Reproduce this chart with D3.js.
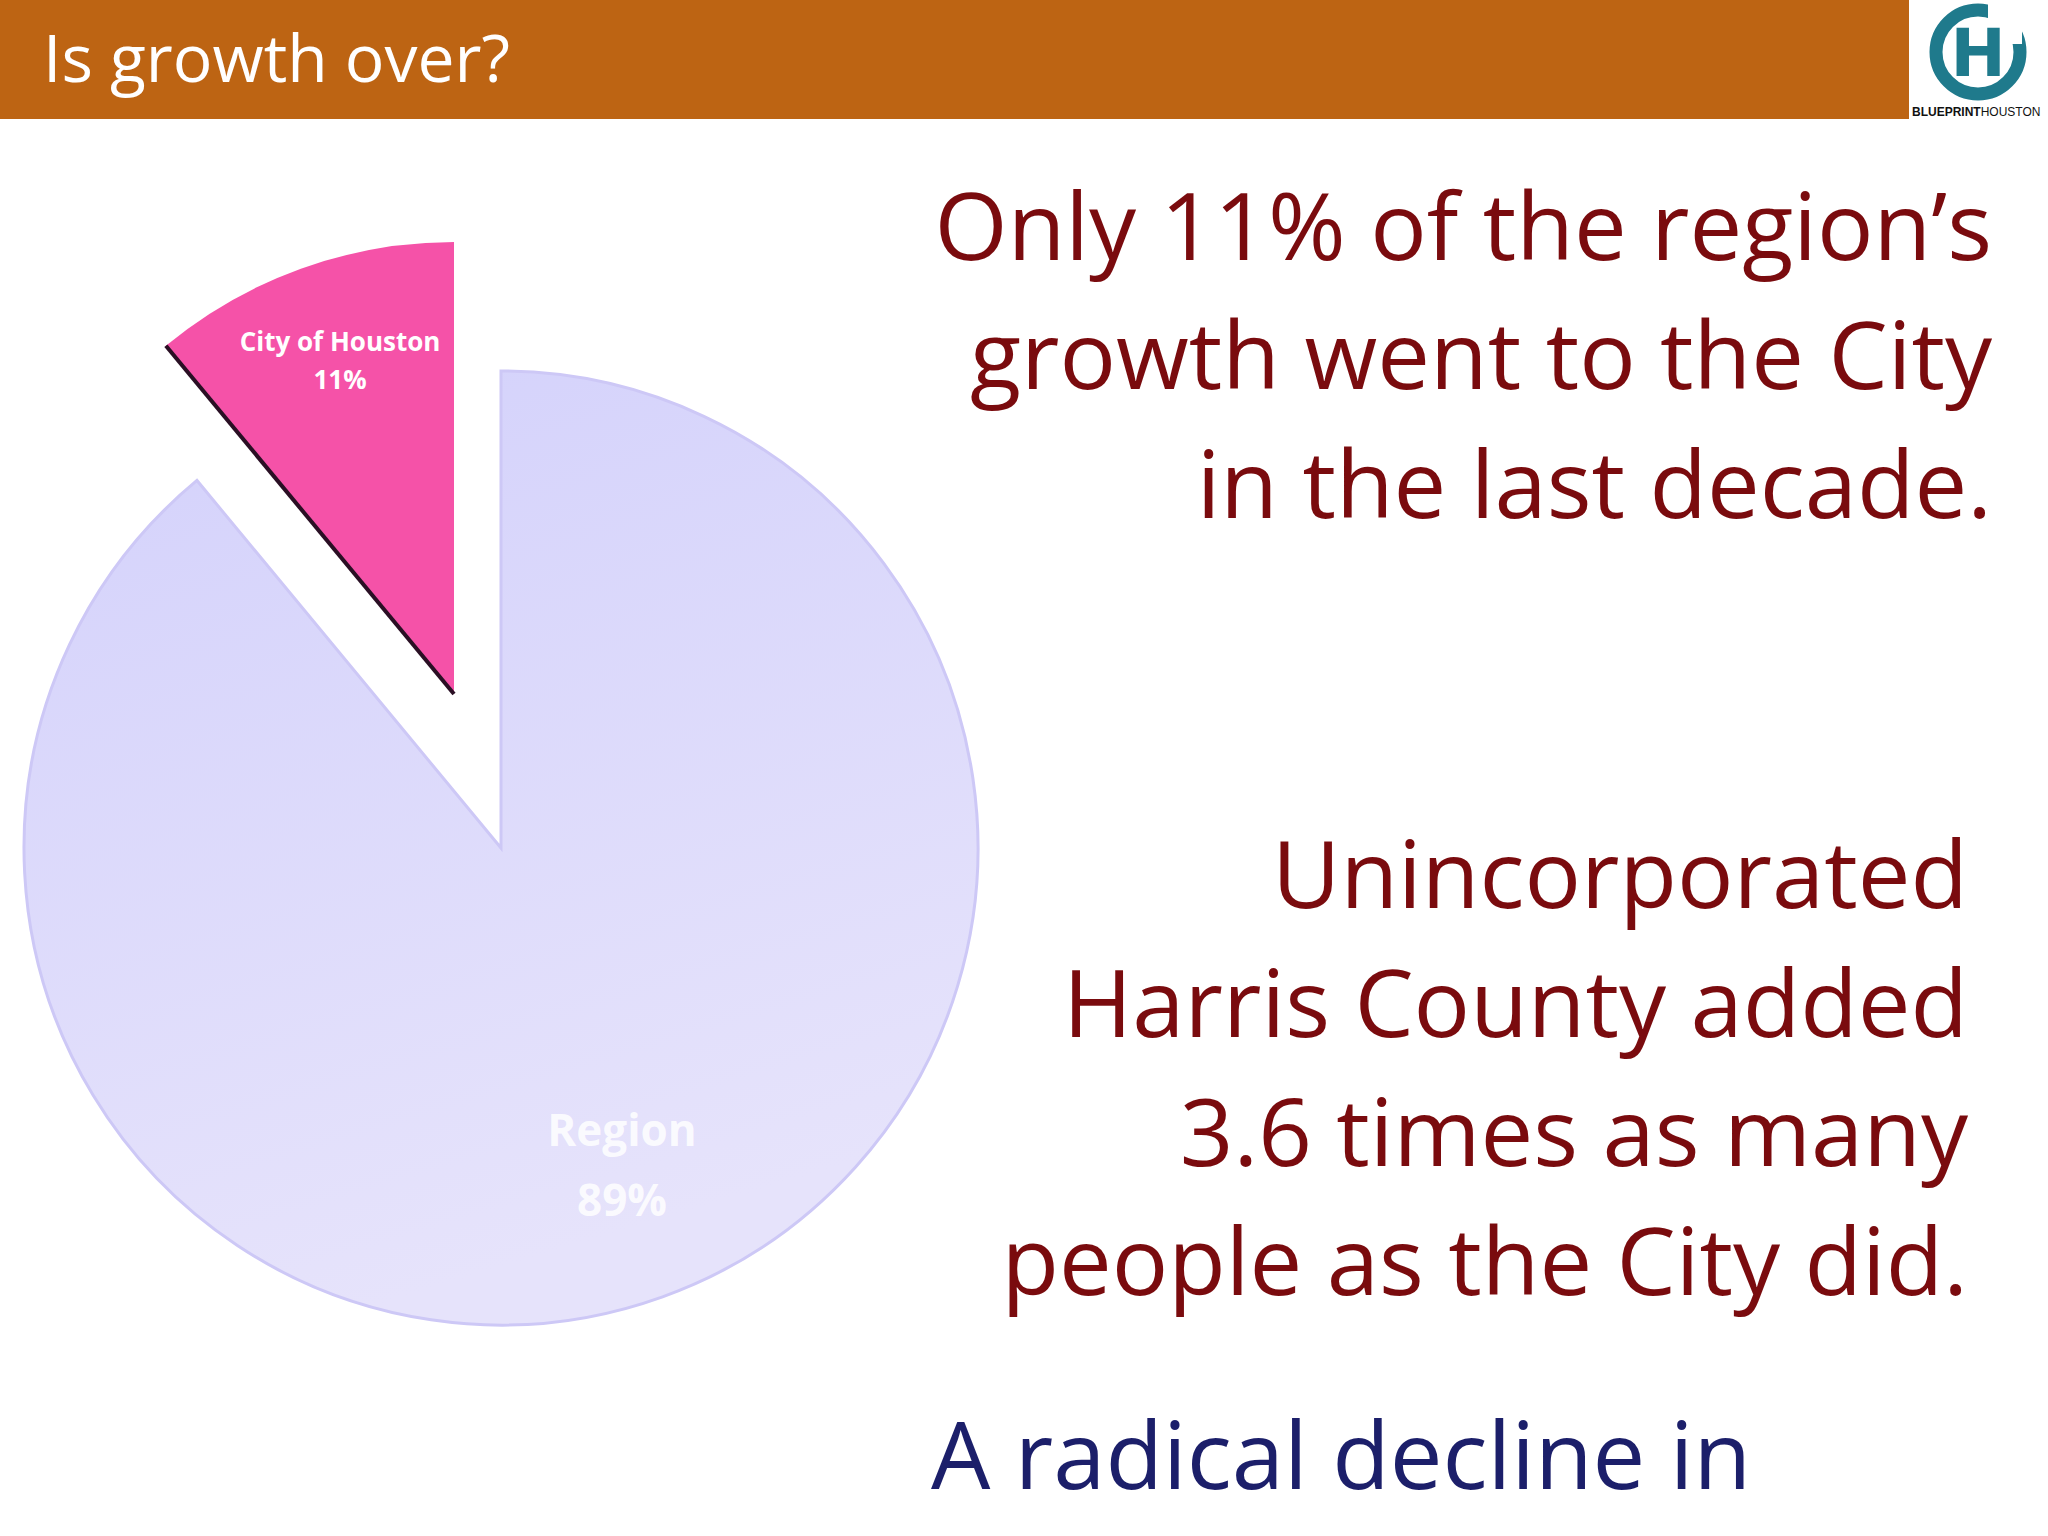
<!DOCTYPE html>
<html>
<head>
<meta charset="UTF-8">
<script src="https://d3js.org/d3.v7.min.js"></script>
<style>body{margin:0;background:#fff}</style>
</head>
<body>
<svg width="2048" height="1536"></svg>
<script>
var categories = ["City of Houston", "Region"];
var shares = [11, 89];
var headline = ["Only 11% of the region\u2019s", "growth went to the City", "in the last decade."];
var secondBlock = ["Unincorporated", "Harris County added", "3.6 times as many", "people as the City did."];
var thirdBlock = ["A radical decline in"];

var svg = d3.select("svg");
var font = "'Open Sans', sans-serif";

// header bar
svg.append("rect").attr("x", 0).attr("y", 0).attr("width", 1909).attr("height", 119).attr("fill", "#bd6413");
svg.append("text").attr("x", 43).attr("y", 82).attr("fill", "#fff")
  .attr("font-family", font).attr("font-size", 66).text("Is growth over?");

// logo
var logo = svg.append("g").attr("transform", "translate(1978,52)");
logo.append("circle").attr("r", 42).attr("fill", "none").attr("stroke", "#1f7a8c").attr("stroke-width", 13);
logo.append("rect").attr("x", 10).attr("y", -48).attr("width", 34).attr("height", 40).attr("fill", "#fff");
logo.append("text").attr("y", 24).attr("text-anchor", "middle").attr("fill", "#1f7a8c")
  .attr("font-family", "DejaVu Sans").attr("font-weight", "bold").attr("font-size", 66).text("H");
svg.append("text").attr("x", 1912).attr("y", 116).attr("font-family", "'Liberation Sans'")
  .attr("font-size", 12).attr("fill", "#111")
  .html("<tspan font-weight='bold'>BLUEPRINT</tspan>HOUSTON");

// pie
var defs = svg.append("defs");
var g1 = defs.append("linearGradient").attr("id", "reg").attr("x1", 0).attr("y1", 0).attr("x2", 0.3).attr("y2", 1);
g1.append("stop").attr("offset", "0").attr("stop-color", "#d3d1fb");
g1.append("stop").attr("offset", "1").attr("stop-color", "#e6e3fb");

var pie = d3.pie().sort(null).value(function (d) { return d; })
  .startAngle(-2 * Math.PI * shares[0] / 100).endAngle(2 * Math.PI - 2 * Math.PI * shares[0] / 100);
var arcs = pie(shares);
var cx = 501, cy = 848;
var regionArc = d3.arc().innerRadius(0).outerRadius(477);
var cityArc = d3.arc().innerRadius(0).outerRadius(452);

var reg = svg.append("g").attr("transform", "translate(" + cx + "," + cy + ")");
reg.append("path").attr("d", regionArc(arcs[1])).attr("fill", "url(#reg)")
  .attr("stroke", "#cdc8f6").attr("stroke-width", 3);
reg.append("text").attr("text-anchor", "middle")
  .attr("fill", "#fff").attr("fill-opacity", 0.85).attr("font-family", font).attr("font-weight", "bold").attr("font-size", 44)
  .selectAll("tspan").data([categories[1], shares[1] + "%"]).enter().append("tspan")
  .attr("x", 121).attr("y", function (d, i) { return 298 + i * 70; }).text(function (d) { return d; });

var city = svg.append("g").attr("transform", "translate(" + (cx - 47) + "," + (cy - 154) + ")");
city.append("path").attr("d", cityArc(arcs[0])).attr("fill", "#f552a8");
var a0 = arcs[0].startAngle;
city.append("line").attr("x1", 0).attr("y1", 0)
  .attr("x2", 452 * Math.sin(a0)).attr("y2", -452 * Math.cos(a0))
  .attr("stroke", "#2a0f24").attr("stroke-width", 4);
city.append("text").attr("text-anchor", "middle").attr("fill", "#fff")
  .attr("font-family", font).attr("font-weight", "bold").attr("font-size", 26)
  .selectAll("tspan").data([categories[0], shares[0] + "%"]).enter().append("tspan")
  .attr("x", -114).attr("y", function (d, i) { return -343 + i * 38; }).text(function (d) { return d; });

// right text
function block(lines, x, y0, anchor, color) {
  svg.append("g").selectAll("text").data(lines).enter().append("text")
    .attr("x", x).attr("y", function (d, i) { return y0 + i * 129; })
    .attr("text-anchor", anchor).attr("fill", color)
    .attr("font-family", font).attr("font-size", 94).text(function (d) { return d; });
}
block(headline, 1992, 260, "end", "#7a0b0e");
block(secondBlock, 1968, 908, "end", "#7a0b0e");
block(thirdBlock, 931, 1489, "start", "#1c1f6a");
</script>
</body>
</html>
